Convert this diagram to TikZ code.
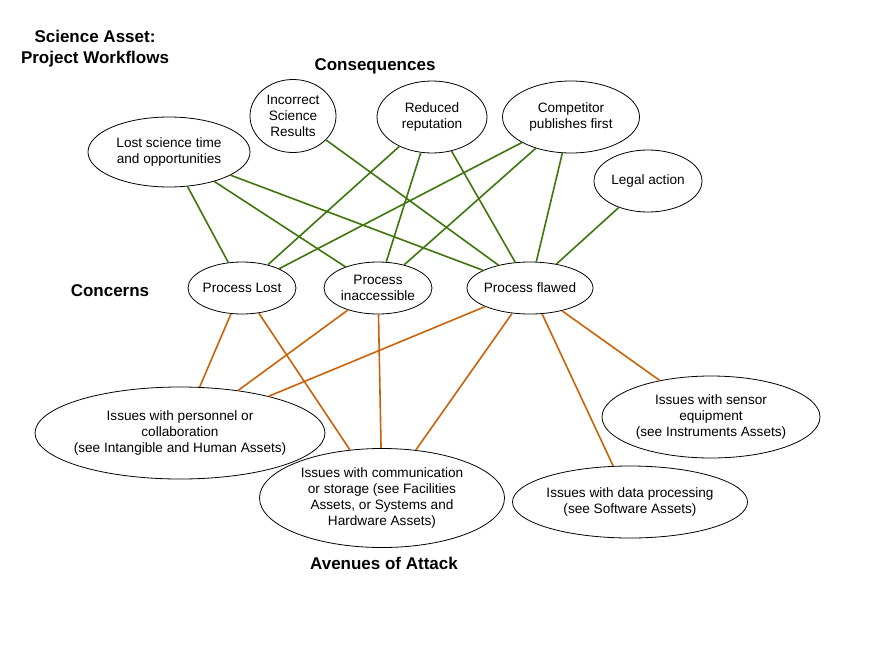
\documentclass[tikz,border=0pt]{standalone}
\usepackage{fontspec}
\setmainfont{Liberation Sans}
\usetikzlibrary{shapes.geometric}
\definecolor{conseqgreen}{RGB}{62,118,12}
\definecolor{attackorange}{RGB}{204,98,8}

\begin{document}
\begin{tikzpicture}[x=1pt,y=-1pt,
        bubble/.style={draw,ellipse,align=center,inner xsep=-8pt,inner ysep=0pt,
                       line width=0.8pt,font=\fontsize{13.6}{16}\selectfont},
        heading/.style={align=center,font=\bfseries\fontsize{17}{21}\selectfont},
        conseq/.style={draw=conseqgreen,line width=1.6pt},
        attack/.style={draw=attackorange,line width=1.6pt}]
        \useasboundingbox (0,0) rectangle (891,651);

        % headings
        \node[heading] (title) at (95,49) {Science Asset:\\Project Workflows};
        \node[heading] (conseqlabel) at (375,66) {Consequences};
        \node[heading] (concernlabel) at (110,291) {Concerns};
        \node[heading] (attacklabel) at (384,563) {Avenues of Attack};

        % consequences
        \node[bubble,minimum width=162,minimum height=70] (losttime) at (169,152)
              {Lost science time\\and opportunities};
        \node[bubble,minimum width=86,minimum height=73] (incorrect) at (293,116)
              {Incorrect\\Science\\Results};
        \node[bubble,minimum width=110,minimum height=72] (reputation) at (432,117)
              {Reduced\\reputation};
        \node[bubble,minimum width=137,minimum height=72] (competitor) at (571,117)
              {Competitor\\publishes first};
        \node[bubble,minimum width=108,minimum height=62] (legal) at (648,181)
              {Legal action};

        % concerns
        \node[bubble,minimum width=108,minimum height=52] (lost) at (242,288)
              {Process Lost};
        \node[bubble,minimum width=108,minimum height=52] (inaccessible) at (378,288)
              {Process\\inaccessible};
        \node[bubble,minimum width=126,minimum height=52] (flawed) at (530,288)
              {Process flawed};

        % avenues of attack
        \node[bubble,minimum width=290,minimum height=92] (personnel) at (180,433)
              {Issues with personnel or\\collaboration\\(see Intangible and Human Assets)};
        \node[bubble,minimum width=245,minimum height=99] (storage) at (382,498)
              {Issues with communication\\or storage (see Facilities\\Assets, or Systems and\\Hardware Assets)};
        \node[bubble,minimum width=235,minimum height=72] (software) at (630,502)
              {Issues with data processing\\(see Software Assets)};
        \node[bubble,minimum width=218,minimum height=82] (sensor) at (711,417)
              {Issues with sensor\\equipment\\(see Instruments Assets)};

        \draw[conseq] (losttime) -- (lost);
        \draw[conseq] (losttime) -- (inaccessible);
        \draw[conseq] (losttime) -- (flawed);
        \draw[conseq] (incorrect) -- (flawed);
        \draw[conseq] (reputation) -- (lost);
        \draw[conseq] (reputation) -- (inaccessible);
        \draw[conseq] (reputation) -- (flawed);
        \draw[conseq] (competitor) -- (lost);
        \draw[conseq] (competitor) -- (inaccessible);
        \draw[conseq] (competitor) -- (flawed);
        \draw[conseq] (legal) -- (flawed);

        \draw[attack] (lost) -- (personnel);
        \draw[attack] (lost) -- (storage);
        \draw[attack] (inaccessible) -- (personnel);
        \draw[attack] (inaccessible) -- (storage);
        \draw[attack] (flawed) -- (personnel);
        \draw[attack] (flawed) -- (storage);
        \draw[attack] (flawed) -- (software);
        \draw[attack] (flawed) -- (sensor);
    \end{tikzpicture}
\end{document}
